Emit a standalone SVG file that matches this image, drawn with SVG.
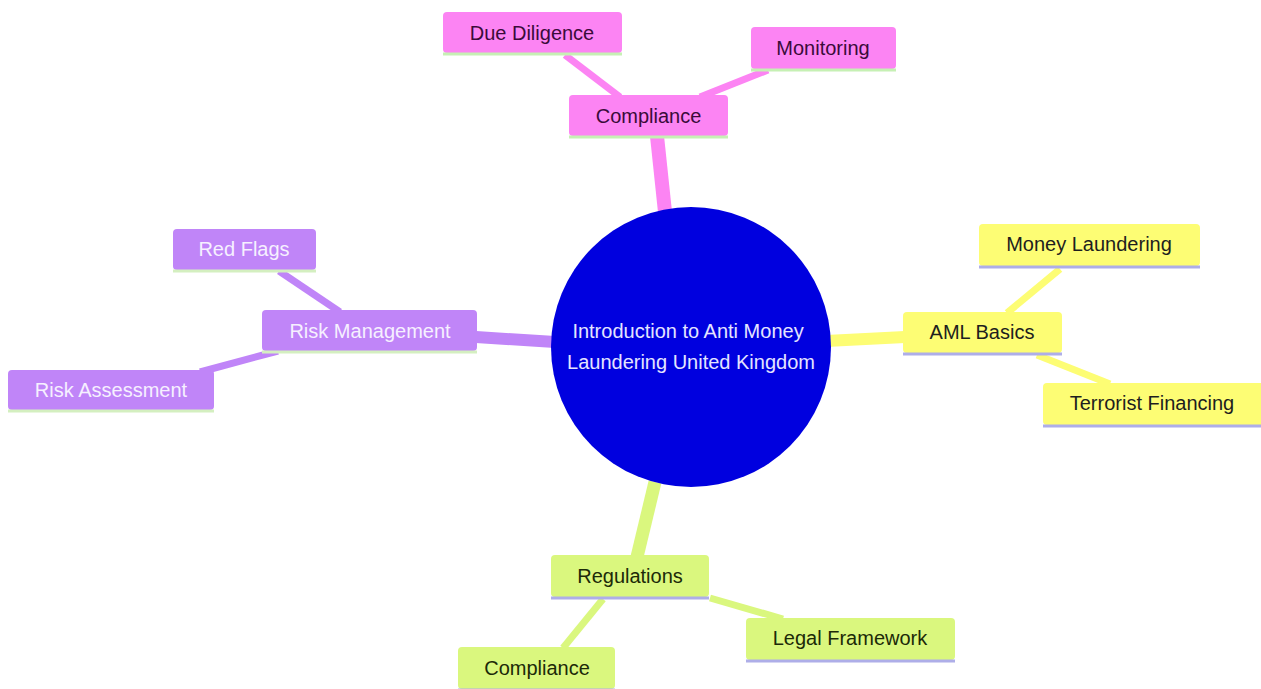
<svg xmlns="http://www.w3.org/2000/svg" width="1261" height="689" viewBox="0 0 1261 689">
<style>
text{font-family:"Liberation Sans",Arial,sans-serif;font-size:20px;text-anchor:middle;dominant-baseline:central}
.pink{fill:#fc84f3}.pinkS{stroke:#fc84f3}
.purp{fill:#c085f8}.purpS{stroke:#c085f8}
.yel{fill:#fdfd74}.yelS{stroke:#fdfd74}
.lim{fill:#daf77e}.limS{stroke:#daf77e}
.tp{fill:#3a0b3a}.tu{fill:#f6f0ff}.ty{fill:#1e1e1e}.tl{fill:#1c2a08}
.bg{stroke:#c6f0b4;stroke-width:3}
.bgp{stroke:#d4efc0;stroke-width:3}
.bl{stroke:#aeaee8;stroke-width:3}
.c{fill:none;stroke-linecap:butt}
</style>
<rect width="1261" height="689" fill="#ffffff"/>
<g id="connectors">
<line class="c pinkS" x1="657" y1="136" x2="665" y2="212" stroke-width="14"/>
<line class="c purpS" x1="476" y1="337" x2="555" y2="342" stroke-width="12"/>
<line class="c yelS" x1="826" y1="341" x2="905" y2="337" stroke-width="12"/>
<line class="c limS" x1="655" y1="482" x2="637" y2="557" stroke-width="13"/>
<line class="c pinkS" x1="565" y1="55" x2="620" y2="97" stroke-width="7"/>
<line class="c pinkS" x1="768" y1="70" x2="700" y2="97" stroke-width="7"/>
<line class="c purpS" x1="279" y1="271" x2="340" y2="312" stroke-width="7"/>
<line class="c purpS" x1="200" y1="372" x2="278" y2="351" stroke-width="7"/>
<line class="c yelS" x1="1060" y1="269" x2="1007" y2="313" stroke-width="7"/>
<line class="c yelS" x1="1037" y1="355" x2="1110" y2="384" stroke-width="7"/>
<line class="c limS" x1="603" y1="599" x2="563" y2="648" stroke-width="7"/>
<line class="c limS" x1="710" y1="598" x2="783" y2="619" stroke-width="7"/>
</g>
<g id="root">
<circle cx="691" cy="347" r="140" fill="#0000df"/>
<text x="688" y="331" fill="#e4e4ff">Introduction to Anti Money</text>
<text x="691" y="362" fill="#e4e4ff">Laundering United Kingdom</text>
</g>
<g id="n-compliance">
<rect class="pink" x="569" y="95" width="159" height="41" rx="4"/>
<line class="bg" x1="569" y1="137" x2="728" y2="137"/>
<text class="tp" x="648.5" y="116">Compliance</text>
</g>
<g id="n-due-diligence">
<rect class="pink" x="443" y="12" width="179" height="41" rx="4"/>
<line class="bg" x1="443" y1="54" x2="622" y2="54"/>
<text class="tp" x="532" y="33">Due Diligence</text>
</g>
<g id="n-monitoring">
<rect class="pink" x="751" y="27" width="145" height="42" rx="4"/>
<line class="bg" x1="751" y1="70" x2="896" y2="70"/>
<text class="tp" x="823" y="48">Monitoring</text>
</g>
<g id="n-risk-management">
<rect class="purp" x="262" y="310" width="215" height="41" rx="4"/>
<line class="bgp" x1="262" y1="352" x2="477" y2="352"/>
<text class="tu" x="370" y="331">Risk Management</text>
</g>
<g id="n-red-flags">
<rect class="purp" x="173" y="229" width="143" height="41" rx="4"/>
<line class="bgp" x1="173" y1="271" x2="316" y2="271"/>
<text class="tu" x="244" y="249">Red Flags</text>
</g>
<g id="n-risk-assessment">
<rect class="purp" x="8" y="370" width="206" height="40" rx="4"/>
<line class="bgp" x1="8" y1="411" x2="214" y2="411"/>
<text class="tu" x="111" y="390">Risk Assessment</text>
</g>
<g id="n-aml-basics">
<rect class="yel" x="903" y="312" width="159" height="41" rx="4"/>
<line class="bl" x1="903" y1="354" x2="1062" y2="354"/>
<text class="ty" x="982" y="332">AML Basics</text>
</g>
<g id="n-money-laundering">
<rect class="yel" x="979" y="224" width="221" height="42" rx="4"/>
<line class="bl" x1="979" y1="267" x2="1200" y2="267"/>
<text class="ty" x="1089" y="244">Money Laundering</text>
</g>
<g id="n-terrorist-financing">
<rect class="yel" x="1043" y="383" width="222" height="42" rx="4"/>
<line class="bl" x1="1043" y1="426" x2="1261" y2="426"/>
<text class="ty" x="1152" y="403">Terrorist Financing</text>
</g>
<g id="n-regulations">
<rect class="lim" x="551" y="555" width="158" height="42" rx="4"/>
<line class="bl" x1="551" y1="598" x2="709" y2="598"/>
<text class="tl" x="630" y="576">Regulations</text>
</g>
<g id="n-legal-framework">
<rect class="lim" x="746" y="618" width="209" height="42" rx="4"/>
<line class="bl" x1="746" y1="661" x2="955" y2="661"/>
<text class="tl" x="850" y="638">Legal Framework</text>
</g>
<g id="n-compliance-2">
<rect class="lim" x="458" y="647" width="157" height="42" rx="4"/>
<line class="bl" x1="458" y1="690" x2="615" y2="690"/>
<text class="tl" x="537" y="668">Compliance</text>
</g>
</svg>
